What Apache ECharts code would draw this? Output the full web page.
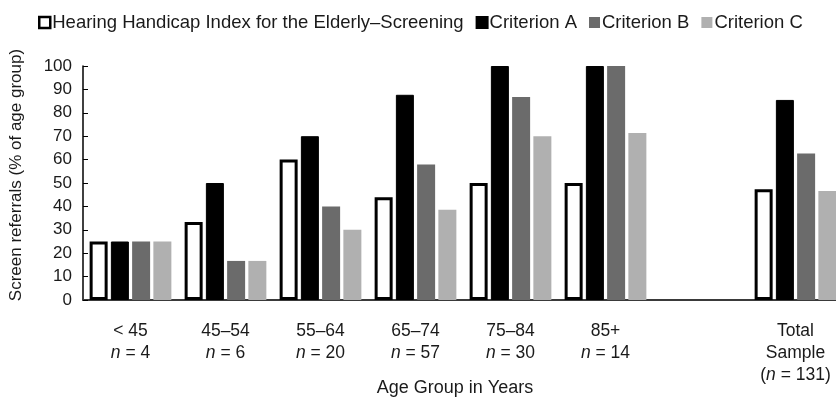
<!DOCTYPE html>
<html>
<head>
<meta charset="utf-8">
<script src="https://cdn.jsdelivr.net/npm/echarts@6/dist/echarts.min.js"></script>
<style>html,body{margin:0;padding:0;background:#fff;}#c{width:836px;height:398px;}</style>
</head>
<body>
<div id="c"></div>
<script>
var categories = ['< 45', '45–54', '55–64', '65–74', '75–84', '85+', '', 'Total'];
var nLabels = ['4', '6', '20', '57', '30', '14', '', '131'];
var seriesNames = ['Hearing Handicap Index for the Elderly–Screening', 'Criterion A', 'Criterion B', 'Criterion C'];
var hhies = [25, 33.3, 60, 43.9, 50, 50, null, 47.3];
var critA = [25, 50, 70, 87.7, 100, 100, null, 85.5];
var critB = [25, 16.7, 40, 57.9, 86.7, 100, null, 62.6];
var critC = [25, 16.7, 30, 38.6, 70, 71.4, null, 46.6];
var yTicks = [0, 10, 20, 30, 40, 50, 60, 70, 80, 90, 100];

var FONT = '"Liberation Sans", Arial, sans-serif';
var TXT = '#1a1a1a';

var chart = echarts.init(document.getElementById('c'), null, {renderer: 'canvas'});

function labelFmt(value, idx) {
  var n = nLabels[idx];
  if (value === '') return '';
  if (value === 'Total') return 'Total\nSample\n({i|n} = ' + n + ')';
  return value + '\n{i|n} = ' + n;
}

var barW = 18;
var option = {
  animation: false,
  backgroundColor: '#fff',
  textStyle: {fontFamily: FONT, color: TXT},
  legend: {
    top: 8, left: 33,
    itemWidth: 11, itemHeight: 11, itemGap: 12,
    textStyle: {fontFamily: FONT, fontSize: 18.5, color: TXT, padding: [0, 0, 0, -3]},
    data: [
      {name: seriesNames[0], icon: 'rect', itemStyle: {color: '#fff', borderColor: '#000', borderWidth: 2.5}},
      {name: seriesNames[1], icon: 'rect'},
      {name: seriesNames[2], icon: 'rect'},
      {name: seriesNames[3], icon: 'rect'}
    ]
  },
  grid: {left: 83, right: -7, top: 66, bottom: 98, containLabel: false, outerBoundsMode: 'none'},
  xAxis: {
    type: 'category',
    data: categories,
    axisLine: {show: true, lineStyle: {color: '#3a3a3a', width: 2}},
    axisTick: {show: false},
    axisLabel: {
      interval: 0, margin: 20, fontSize: 17.5, color: TXT, fontFamily: FONT,
      lineHeight: 22, verticalAlign: 'top',
      formatter: labelFmt,
      rich: {i: {fontStyle: 'italic', fontSize: 17.5, fontFamily: FONT, color: TXT, lineHeight: 22}}
    },
    name: 'Age Group in Years',
    nameLocation: 'middle',
    nameGap: 79,
    nameMoveOverlap: false,
    nameTextStyle: {fontSize: 18, color: TXT, fontFamily: FONT, padding: [0, 16, 0, 0]}
  },
  yAxis: {
    type: 'value', min: 0, max: 100, interval: 10,
    axisLine: {show: true, lineStyle: {color: '#000', width: 1.5}},
    axisTick: {show: true, inside: true, length: 5, lineStyle: {color: '#000'}},
    splitLine: {show: false},
    axisLabel: {fontSize: 17, color: TXT, fontFamily: FONT, margin: 11},
    name: 'Screen referrals (% of age group)',
    nameLocation: 'middle',
    nameGap: 58,
    nameMoveOverlap: false,
    nameTextStyle: {fontSize: 17, color: TXT, fontFamily: FONT, padding: [0, 0, 0, 16]}
  },
  series: [
    {name: seriesNames[0], type: 'bar', data: hhies, barWidth: barW, barGap: '18%',
     itemStyle: {color: '#fff', borderColor: '#000', borderWidth: 3}},
    {name: seriesNames[1], type: 'bar', data: critA, barWidth: barW, barGap: '18%',
     itemStyle: {color: '#000', borderColor: '#000', borderWidth: 1}},
    {name: seriesNames[2], type: 'bar', data: critB, barWidth: barW, barGap: '18%',
     itemStyle: {color: '#6b6b6b'}},
    {name: seriesNames[3], type: 'bar', data: critC, barWidth: barW, barGap: '18%',
     itemStyle: {color: '#b0b0b0'}}
  ]
};
chart.setOption(option);
</script>
</body>
</html>
